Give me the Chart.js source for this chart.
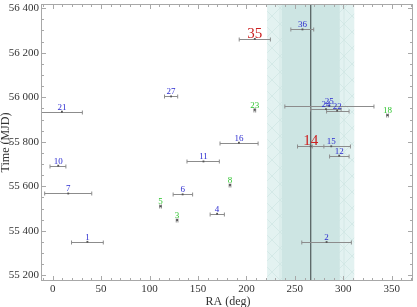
<!DOCTYPE html>
<html>
<head>
<meta charset="utf-8">
<script src="https://cdn.jsdelivr.net/npm/chart.js@4/dist/chart.umd.min.js"></script>
<style>
  body { margin: 0; background: #fff; }
  #wrap { width: 417px; height: 307px; position: relative; }
</style>
</head>
<body>
<div id="wrap"><canvas id="raChart"></canvas></div>
<script>
// event ids, RA (deg), time (MJD), RA error range, label group
const ids   = [1, 2, 3, 4, 5, 6, 7, 8, 10, 11, 12, 14, 15, 16, 18, 21, 22, 23, 24, 25, 27, 35, 36];
const ra    = [35.9, 282.8, 128.5, 169.8, 111.4, 134.2, 16.1, 183.1, 5.8, 155.7, 295.8, 266.4, 287.6, 192.3, 345.7, 9.6, 293.7, 208.7, 282.2, 285.6, 122.3, 208.7, 257.9];
const mjd   = [55351, 55350, 55449, 55477, 55511, 55564, 55568, 55607, 55693, 55712, 55738, 55780, 55780, 55796, 55920, 55935, 55940, 55945, 55947, 55962, 56004, 56262, 56305];
const raLo  = [19.5, 257.2, 127.6, 162.6, 110.5, 124.4, -8.2, 182.2, -2.7, 138.7, 285.9, 252.8, 268.0, 172.8, 344.8, -15, 282.8, 207.8, 266.4, 239.7, 115.5, 192.6, 245.9];
const raHi  = [52.3, 308.4, 129.4, 177.3, 112.3, 144.5, 40.4, 184.0, 13.7, 172.1, 306.0, 280.0, 307.4, 212.1, 346.6, 30.7, 306.0, 209.6, 297.8, 331.7, 129.1, 224.8, 269.5];
const group = ["b", "b", "g", "b", "g", "b", "b", "g", "b", "b", "b", "r", "b", "b", "g", "b", "b", "g", "b", "b", "b", "r", "b"];

const galCenterRA = 266.4;
const bandInner = 30;
const bandOuter = 45;

const labelColors = { b: "#2b2bd0", g: "#2ec42e", r: "#cc2020" };
const serif = "'Liberation Serif', 'Times New Roman', serif";

const points = ids.map((id, i) => ({ x: ra[i], y: mjd[i], lo: raLo[i], hi: raHi[i], id: id, grp: group[i] }));

// light hatch tile for the outer band
const makeHatch = () => {
    const c = document.createElement("canvas");
    c.width = 16; c.height = 16;
    const g = c.getContext("2d");
    g.fillStyle = "#e3f2f1";
    g.fillRect(0, 0, 16, 16);
    g.strokeStyle = "#d0e6e4";
    g.lineWidth = 0.8;
    g.beginPath();
    g.moveTo(0, 0); g.lineTo(16, 16);
    g.moveTo(16, 0); g.lineTo(0, 16);
    g.moveTo(8, 0); g.lineTo(8, 16);
    g.stroke();
    return g.createPattern(c, "repeat");
};

const fmtNum = v => {
    const s = String(v);
    return s.length > 3 ? s.slice(0, s.length - 3) + " " + s.slice(s.length - 3) : s;
};

const framePlugin = {
    id: "frame",
    beforeDatasetsDraw(chart) {
        const { ctx, chartArea: a, scales: { x, y } } = chart;
        ctx.save();
        ctx.beginPath();
        ctx.rect(a.left, a.top, a.right - a.left, a.bottom - a.top);
        ctx.clip();
        // bands around the galactic centre
        ctx.fillStyle = makeHatch();
        const o1 = x.getPixelForValue(galCenterRA - bandOuter), o2 = x.getPixelForValue(galCenterRA + bandOuter);
        ctx.fillRect(o1, a.top, o2 - o1, a.bottom - a.top);
        ctx.fillStyle = "#cde5e3";
        const i1 = x.getPixelForValue(galCenterRA - bandInner), i2 = x.getPixelForValue(galCenterRA + bandInner);
        ctx.fillRect(i1, a.top, i2 - i1, a.bottom - a.top);
        // vertical line at the centre
        const cx = x.getPixelForValue(galCenterRA);
        ctx.strokeStyle = "#5a6464";
        ctx.lineWidth = 1.3;
        ctx.beginPath();
        ctx.moveTo(cx, a.top); ctx.lineTo(cx, a.bottom);
        ctx.stroke();
        // error bars
        ctx.strokeStyle = "#8c8c8c";
        ctx.lineWidth = 1;
        chart.data.datasets[0].data.forEach(p => {
            const py = Math.round(y.getPixelForValue(p.y)) + 0.5;
            const xl = x.getPixelForValue(p.lo), xr = x.getPixelForValue(p.hi);
            ctx.beginPath();
            ctx.moveTo(xl, py); ctx.lineTo(xr, py);
            ctx.moveTo(xl, py - 2); ctx.lineTo(xl, py + 2);
            ctx.moveTo(xr, py - 2); ctx.lineTo(xr, py + 2);
            ctx.stroke();
        });
        ctx.restore();
    },
    afterDatasetsDraw(chart) {
        const { ctx, chartArea: a, scales: { x, y } } = chart;
        ctx.save();
        // point labels
        ctx.textAlign = "center";
        ctx.textBaseline = "alphabetic";
        chart.data.datasets[0].data.forEach(p => {
            const px = x.getPixelForValue(p.x), py = y.getPixelForValue(p.y);
            const big = p.grp === "r";
            ctx.font = big ? "15px " + serif : "9px " + serif;
            ctx.fillStyle = labelColors[p.grp];
            ctx.fillText(String(p.id), px, py - (big ? 1 : 2));
        });
        // frame
        ctx.strokeStyle = "#a8a8a8";
        ctx.lineWidth = 1;
        ctx.strokeRect(a.left + 0.5, a.top + 0.5, a.right - a.left - 1, a.bottom - a.top - 1);
        ctx.beginPath();
        for (let v = -10; v <= 370; v += 10) {
            const px = Math.round(x.getPixelForValue(v)) + 0.5;
            const len = v % 50 === 0 ? 5 : 3;
            ctx.moveTo(px, a.bottom); ctx.lineTo(px, a.bottom - len);
            ctx.moveTo(px, a.top); ctx.lineTo(px, a.top + len);
        }
        for (let v = 55200; v <= 56400; v += 50) {
            const py = Math.round(y.getPixelForValue(v)) + 0.5;
            const len = v % 200 === 0 ? 5 : 3;
            ctx.moveTo(a.left, py); ctx.lineTo(a.left + len, py);
            ctx.moveTo(a.right, py); ctx.lineTo(a.right - len, py);
        }
        ctx.stroke();
        // tick labels
        ctx.fillStyle = "#333";
        ctx.font = "11px " + serif;
        ctx.textAlign = "center";
        ctx.textBaseline = "top";
        for (let v = 0; v <= 350; v += 50) {
            ctx.fillText(String(v), x.getPixelForValue(v), a.bottom + 3);
        }
        ctx.textAlign = "right";
        ctx.textBaseline = "middle";
        for (let v = 55200; v <= 56400; v += 200) {
            ctx.fillText(fmtNum(v), a.left - 2, y.getPixelForValue(v));
        }
        // axis titles
        ctx.font = "12px " + serif;
        ctx.textAlign = "center";
        ctx.fillText("RA (deg)", (a.left + a.right) / 2 + 1, a.bottom + 21);
        ctx.translate(6, (a.top + a.bottom) / 2);
        ctx.rotate(-Math.PI / 2);
        ctx.fillText("Time (MJD)", 0, 0);
        ctx.restore();
    }
};

const chart = new Chart(document.getElementById("raChart").getContext("2d"), {
    type: "scatter",
    data: {
        datasets: [{
            label: "events",
            data: points,
            pointStyle: "rect",
            pointRadius: 1.3,
            backgroundColor: "#555",
            borderColor: "#555",
            borderWidth: 0
        }]
    },
    options: {
        responsive: true,
        maintainAspectRatio: false,
        animation: false,
        layout: { padding: { left: 41, right: 1, top: 0, bottom: 26 } },
        plugins: { legend: { display: false }, tooltip: { enabled: false } },
        scales: {
            x: { type: "linear", min: -12, max: 372, display: false },
            y: { type: "linear", min: 55175, max: 56419, display: false }
        }
    },
    plugins: [framePlugin]
});
</script>
</body>
</html>
